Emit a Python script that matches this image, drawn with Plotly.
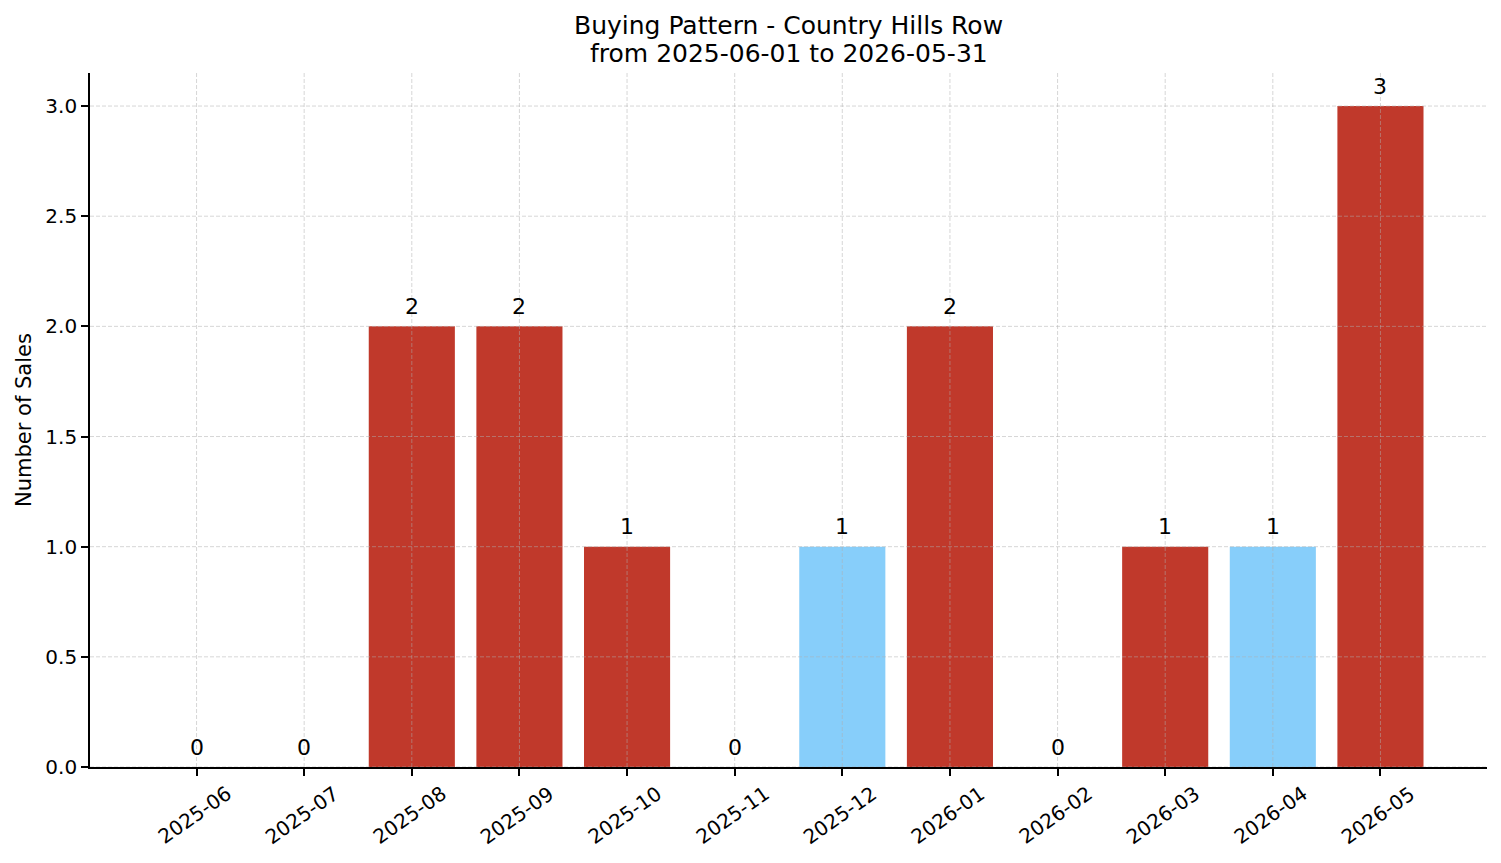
import plotly.graph_objects as go

months = ["2025-06", "2025-07", "2025-08", "2025-09", "2025-10", "2025-11",
          "2025-12", "2026-01", "2026-02", "2026-03", "2026-04", "2026-05"]
sales = [0, 0, 2, 2, 1, 0, 1, 2, 0, 1, 1, 3]
highlight_months = ["2025-12", "2026-04"]
y_ticks = [0.0, 0.5, 1.0, 1.5, 2.0, 2.5, 3.0]

title_line1 = "Buying Pattern - Country Hills Row"
title_line2 = "from 2025-06-01 to 2026-05-31"
y_label = "Number of Sales"

RED = "#c0392b"
BLUE = "#87cefa"
FONT = "DejaVu Sans"
GRID = "rgba(176,176,176,0.5)"

xs = list(range(len(months)))
colors = [BLUE if m in highlight_months else RED for m in months]

fig = go.Figure()
fig.add_trace(go.Bar(x=xs, y=sales, width=0.8, marker=dict(color=colors, line=dict(width=0)),
                     showlegend=False, hoverinfo="skip"))

annotations = []
# bar value labels
for x, v in zip(xs, sales):
    annotations.append(dict(x=x, y=v, xref="x", yref="y", text=str(v), showarrow=False,
                            xanchor="center", yanchor="middle", yshift=20,
                            font=dict(family=FONT, size=22, color="black")))
# rotated x tick labels (centered under ticks)
for x, m in zip(xs, months):
    annotations.append(dict(x=x, y=0, xref="x", yref="paper", text=m, showarrow=False,
                            textangle=-35, xanchor="center", yanchor="middle", yshift=-48, xshift=-2,
                            font=dict(family=FONT, size=20, color="black")))
# title lines
annotations.append(dict(x=0.5, y=1, xref="paper", yref="paper", text=title_line1, showarrow=False,
                        xanchor="center", yanchor="middle", yshift=48,
                        font=dict(family=FONT, size=25, color="black")))
annotations.append(dict(x=0.5, y=1, xref="paper", yref="paper", text=title_line2, showarrow=False,
                        xanchor="center", yanchor="middle", yshift=20,
                        font=dict(family=FONT, size=25, color="black")))
# y axis title
annotations.append(dict(x=0, y=0.5, xref="paper", yref="paper", text=y_label, showarrow=False,
                        textangle=-90, xanchor="center", yanchor="middle", xshift=-66,
                        font=dict(family=FONT, size=21, color="black")))

shapes = []
for x in xs:
    shapes.append(dict(type="line", xref="x", yref="paper", x0=x, x1=x, y0=0, y1=1,
                       line=dict(color=GRID, width=1, dash="4px,2px"), layer="above"))
for t in y_ticks:
    shapes.append(dict(type="line", xref="paper", yref="y", x0=0, x1=1, y0=t, y1=t,
                       line=dict(color=GRID, width=1, dash="4px,2px"), layer="above"))

fig.update_layout(
    width=1501, height=863,
    margin=dict(l=90, r=14, t=73, b=96),
    paper_bgcolor="white", plot_bgcolor="white",
    font=dict(family=FONT, size=20, color="black"),
    annotations=annotations, shapes=shapes,
    bargap=0.2,
)
fig.update_xaxes(range=[-0.99, 11.99], tickmode="array", tickvals=xs, showticklabels=False,
                 showgrid=False, zeroline=False, showline=True, linecolor="black", linewidth=1.7,
                 ticks="outside", ticklen=7, tickwidth=1.7, tickcolor="black")
fig.update_yaxes(range=[0, 3.15], tickmode="array", tickvals=y_ticks,
                 ticktext=[f"{t:.1f}" for t in y_ticks], tickfont=dict(family=FONT, size=20),
                 showgrid=False, zeroline=False, showline=True, linecolor="black", linewidth=1.7,
                 ticks="outside", ticklen=7, tickwidth=1.7, tickcolor="black")

fig.write_html("out.html")
